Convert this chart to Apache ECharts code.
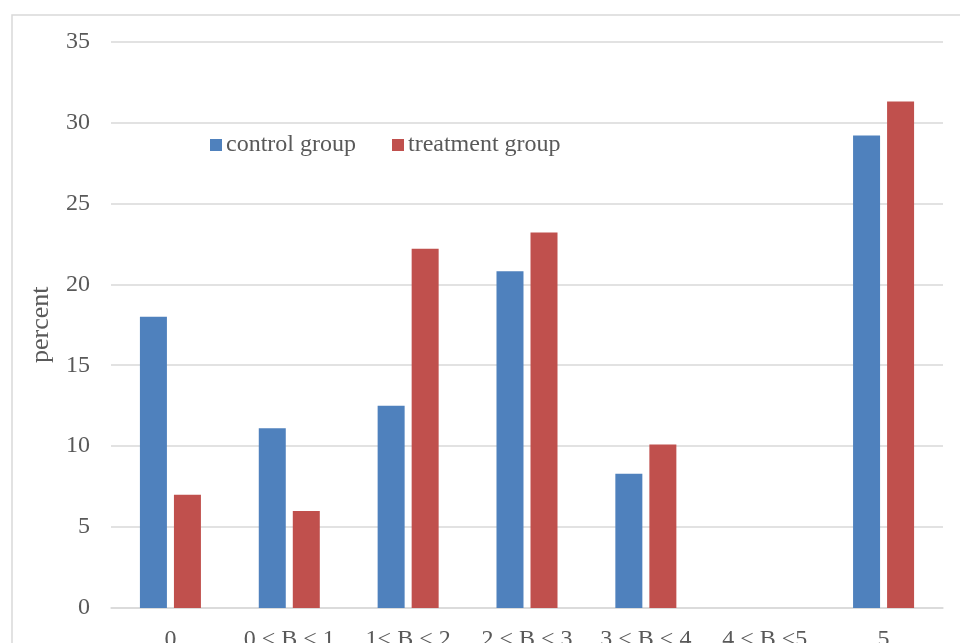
<!DOCTYPE html>
<html>
<head>
<meta charset="utf-8">
<script src="https://cdn.jsdelivr.net/npm/echarts@6/dist/echarts.min.js"></script>
<style>
html,body{margin:0;padding:0;background:#fff;}
#chart{width:960px;height:643px;}
</style>
</head>
<body>
<div id="chart"></div>
<script>
var categories = ['0', '0 < B < 1', '1< B < 2', '2 < B < 3', '3 < B < 4', '4 < B <5', '5'];
var controlGroup = [18.0, 11.1, 12.5, 20.8, 8.3, 0, 29.2];
var treatmentGroup = [7.0, 6.0, 22.2, 23.2, 10.1, 0, 31.3];
var yTicks = [0, 5, 10, 15, 20, 25, 30, 35];

var FONT = '"Liberation Serif", "Times New Roman", serif';
var TXT = '#595959';
var chart = echarts.init(document.getElementById('chart'));
chart.setOption({
  animation: false,
  backgroundColor: '#fff',
  graphic: [{
    type: 'rect',
    shape: { x: 12, y: 15, width: 1000, height: 700 },
    style: { fill: 'none', stroke: '#d9d9d9', lineWidth: 1.5 },
    silent: true, z: -1
  }],
  legend: {
    left: 205, top: 128,
    itemWidth: 12, itemHeight: 12, itemGap: 36,
    icon: 'rect',
    textStyle: { fontFamily: FONT, fontSize: 24, color: TXT, padding: [0, 0, 0, -1] },
    data: ['control group', 'treatment group']
  },
  grid: { left: 111, right: 17, top: 41.5, bottom: 35, containLabel: false, outerBoundsMode: 'none' },
  xAxis: {
    type: 'category',
    data: categories,
    axisLine: { lineStyle: { color: '#d9d9d9', width: 1.5 } },
    axisTick: { show: false },
    axisLabel: { fontFamily: FONT, fontSize: 24, color: TXT, margin: 20, interval: 0 }
  },
  yAxis: {
    type: 'value',
    min: yTicks[0], max: yTicks[yTicks.length - 1], interval: 5,
    name: 'percent',
    nameLocation: 'middle',
    nameGap: 57,
    nameTextStyle: { fontFamily: FONT, fontSize: 26, color: TXT },
    axisLine: { show: false },
    axisTick: { show: false },
    axisLabel: { fontFamily: FONT, fontSize: 24, color: TXT, margin: 21 },
    splitLine: { lineStyle: { color: '#d9d9d9', width: 1.5 } }
  },
  series: [{
    name: 'control group',
    type: 'bar',
    data: controlGroup,
    barWidth: 27,
    barGap: '26%',
    itemStyle: { color: '#4F81BD' }
  }, {
    name: 'treatment group',
    type: 'bar',
    data: treatmentGroup,
    barWidth: 27,
    barGap: '26%',
    itemStyle: { color: '#C0504D' }
  }]
});
</script>
</body>
</html>
